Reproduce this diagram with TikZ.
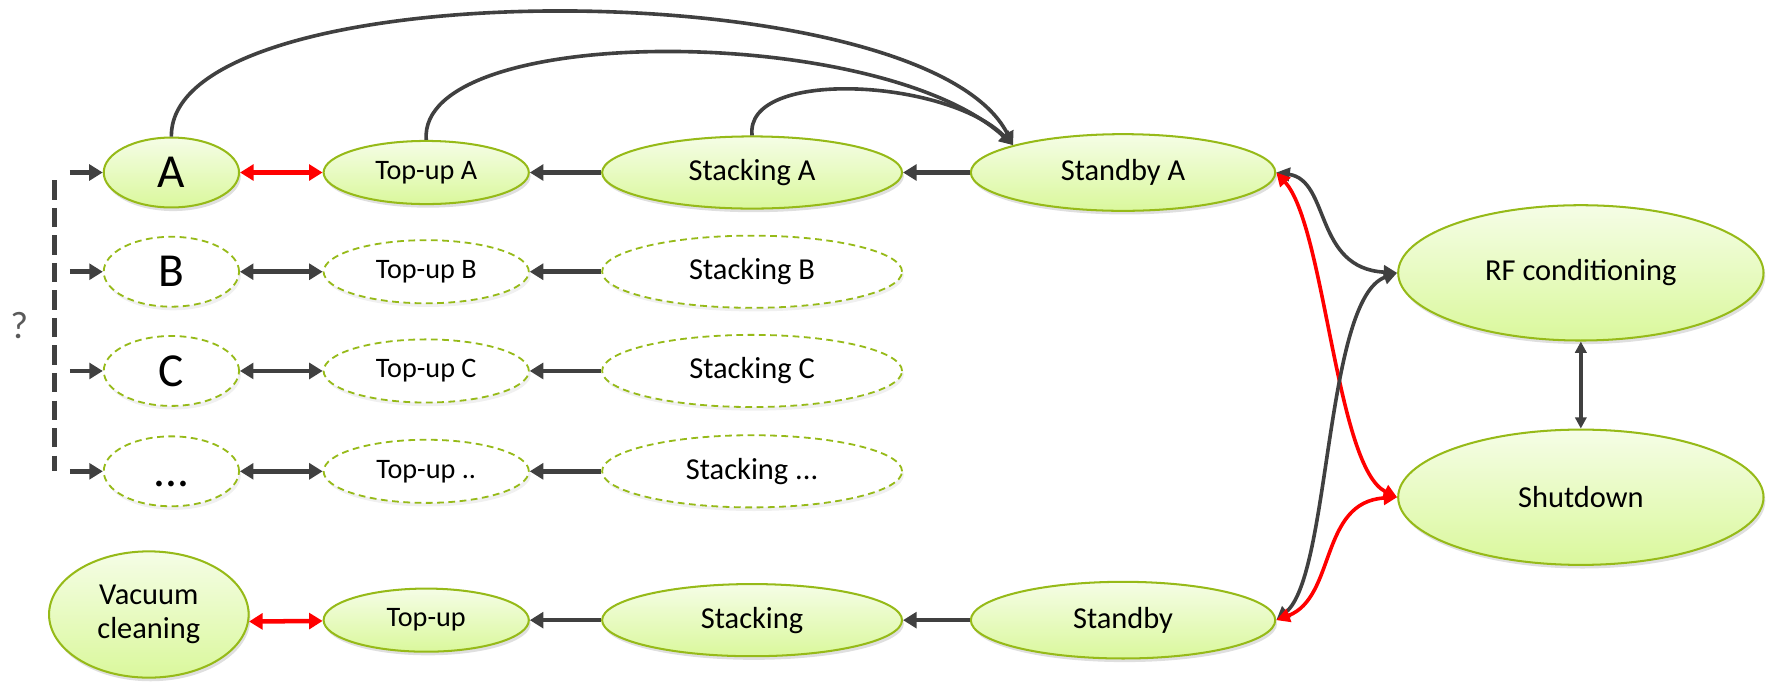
\documentclass[tikz,border=0pt]{standalone}
\usepackage{fontspec}
\setmainfont{Carlito}
\usetikzlibrary{shapes.geometric,arrows.meta,shadows}
\definecolor{stategreen}{RGB}{150,186,24}
\definecolor{filltop}{RGB}{245,253,230}
\definecolor{fillbot}{RGB}{218,248,156}
\definecolor{linkgray}{RGB}{64,64,64}
\definecolor{askgray}{RGB}{90,90,90}
\tikzset{
	state/.style={ellipse, draw=stategreen, line width=0.9pt, top color=filltop, bottom color=fillbot, inner sep=0pt,
		drop shadow={opacity=0.25, shadow xshift=0.8pt, shadow yshift=-1.6pt}},
	ghost/.style={ellipse, draw=stategreen, line width=0.8pt, dash pattern=on 3pt off 2pt, fill=white, inner sep=0pt,
		drop shadow={opacity=0.12, shadow xshift=0.8pt, shadow yshift=-1.6pt}},
	letterbox/.style={minimum width=60pt, minimum height=31pt, font=\fontsize{21}{21}\selectfont},
	topupbox/.style={minimum width=91pt, minimum height=28pt, font=\fontsize{12.5}{12.5}\selectfont},
	stackbox/.style={minimum width=133pt, minimum height=32pt, font=\fontsize{13.5}{13.5}\selectfont},
	standbybox/.style={minimum width=135pt, minimum height=34pt, font=\fontsize{13.5}{13.5}\selectfont},
	bigbox/.style={minimum width=162pt, minimum height=60pt, font=\fontsize{13.5}{13.5}\selectfont},
	link/.style={draw=linkgray, line width=2pt, -{Triangle[length=6pt,width=7pt]}},
	twolink/.style={draw=linkgray, line width=2pt, {Triangle[length=6pt,width=7pt]}-{Triangle[length=6pt,width=7pt]}},
	redlink/.style={draw=red, line width=2pt, {Triangle[length=6pt,width=7pt]}-{Triangle[length=6pt,width=7pt]}},
	arclink/.style={draw=linkgray, line width=1.6pt, -{Triangle[length=6pt,width=6pt]}},
	arctwo/.style={draw=linkgray, line width=1.6pt, {Triangle[length=6pt,width=6pt]}-{Triangle[length=6pt,width=6pt]}},
	arcred/.style={draw=red, line width=1.6pt, {Triangle[length=6pt,width=6pt]}-{Triangle[length=6pt,width=6pt]}}
}

\begin{document}
\begin{tikzpicture}[x=0.5pt, y=0.5pt]
			\useasboundingbox (0,0) rectangle (1568,-608);
			
			\node[state, letterbox] (A) at (152,-153) {A};
			\node[state, topupbox] (topupA) at (378,-153) {Top-up A};
			\node[state, stackbox] (stackA) at (667,-153) {Stacking A};
			\node[state, standbybox] (standbyA) at (996,-153) {Standby A};
			
			\node[ghost, letterbox] (B) at (152,-241) {B};
			\node[ghost, topupbox] (topupB) at (378,-241) {Top-up B};
			\node[ghost, stackbox] (stackB) at (667,-241) {Stacking B};
			
			\node[ghost, letterbox] (C) at (152,-329) {C};
			\node[ghost, topupbox] (topupC) at (378,-329) {Top-up C};
			\node[ghost, stackbox] (stackC) at (667,-329) {Stacking C};
			
			\node[ghost, letterbox] (D) at (152,-418) {\vphantom{A}...};
			\node[ghost, topupbox] (topupD) at (378,-418) {Top-up ..};
			\node[ghost, stackbox] (stackD) at (667,-418) {Stacking ...};
			
			\node[state, minimum width=88.5pt, minimum height=56pt, align=center, font=\fontsize{13.5}{15}\selectfont] (vacuum) at (132,-545) {Vacuum\\cleaning};
			\node[state, topupbox] (topup) at (378,-550) {Top-up};
			\node[state, stackbox] (stack) at (667,-550) {Stacking};
			\node[state, standbybox] (standby) at (996,-550) {Standby};
			
			\node[state, bigbox] (rf) at (1402,-242) {RF conditioning};
			\node[state, bigbox] (shutdown) at (1402,-441) {Shutdown};
			
			\node[text=askgray, font=\fontsize{17}{17}\selectfont] (ask) at (17,-289) {?};
			
			\coordinate (dashtop) at (48,-160);
			\coordinate (dashbot) at (48,-418);
			\draw[draw=linkgray, line width=2.3pt, dash pattern=on 8.5pt off 3.7pt] (dashtop) -- (dashbot);
			
			\coordinate (inA) at (62,-153);
			\coordinate (inB) at (62,-241);
			\coordinate (inC) at (62,-329);
			\coordinate (inD) at (62,-418);
			\draw[link] (inA) -- (A);
			\draw[link] (inB) -- (B);
			\draw[link] (inC) -- (C);
			\draw[link] (inD) -- (D);
			
			\draw[redlink] (A) -- (topupA);
			\draw[link] (stackA) -- (topupA);
			\draw[link] (standbyA) -- (stackA);
			
			\draw[twolink] (B) -- (topupB);
			\draw[link] (stackB) -- (topupB);
			\draw[twolink] (C) -- (topupC);
			\draw[link] (stackC) -- (topupC);
			\draw[twolink] (D) -- (topupD);
			\draw[link] (stackD) -- (topupD);
			
			\draw[redlink] (vacuum.-4) -- (topup);
			\draw[link] (stack) -- (topup);
			\draw[link] (standby) -- (stack);
			
			\draw[arclink] (A.north) .. controls (150,27) and (820,27) .. (standbyA.166);
			\draw[arclink] (topupA.north) .. controls (370,-20) and (780,-20) .. (standbyA.166);
			\draw[arclink] (stackA.north) .. controls (660,-60) and (840,-70) .. (standbyA.166);
			
			\draw[arctwo] (standbyA.east) .. controls (1180,-160) and (1165,-238) .. (rf.west);
			\draw[arcred] (standbyA.east) .. controls (1175,-200) and (1185,-415) .. (shutdown.west);
			\draw[arctwo] (standby.east) .. controls (1180,-510) and (1175,-265) .. (rf.west);
			\draw[arcred] (standby.east) .. controls (1185,-530) and (1170,-445) .. (shutdown.west);
			
			\draw[draw=linkgray, line width=1.5pt, {Triangle[length=5pt,width=5pt]}-{Triangle[length=5pt,width=5pt]}] (rf) -- (shutdown);
		\end{tikzpicture}
\end{document}
